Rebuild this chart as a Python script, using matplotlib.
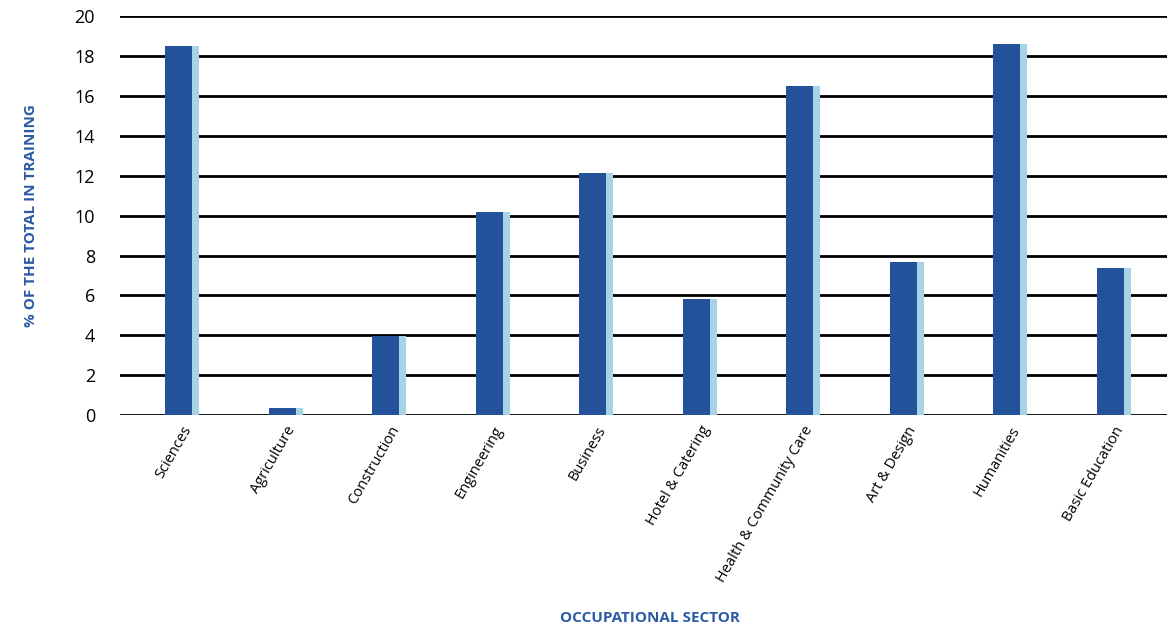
import numpy as np
import matplotlib.pyplot as plt

plt.rcParams['font.family'] = ['Open Sans', 'DejaVu Sans']

# data
sectors = ['Sciences', 'Agriculture', 'Construction', 'Engineering', 'Business',
           'Hotel & Catering', 'Health & Community Care', 'Art & Design',
           'Humanities', 'Basic Education']
share = [18.5, 0.35, 3.95, 10.2, 12.15, 5.8, 16.5, 7.65, 18.6, 7.35]

dark = '#23519a'
light = '#a6d3e6'
title_col = '#2d5aa5'

fig = plt.figure(figsize=(11.69, 6.3), dpi=100)
ax = fig.add_axes([0.1027, 0.341, 0.8953, 0.6336])

x = np.arange(len(sectors))
# light "shadow" bar on the right, dark bar in front
ax.bar(x + 0.096, share, width=0.068, align='edge', color=light, zorder=2)
ax.bar(x - 0.164, share, width=0.26, align='edge', color=dark, zorder=3)

ax.set_ylim(0, 20)
ax.set_xlim(-0.6, 9.51)
ax.set_yticks(range(0, 21, 2))
ax.yaxis.grid(True, color='black', linewidth=2)
ax.set_axisbelow(True)
for s in ax.spines.values():
    s.set_visible(False)
ax.tick_params(axis='both', length=0, labelsize=13, pad=18)
ax.tick_params(axis='x', labelsize=10.5, pad=6)

ax.set_xticks(x)
ax.set_xticklabels(sectors, rotation=60, ha='right', rotation_mode='anchor')

ax.set_ylabel('% OF THE TOTAL IN TRAINING', color=title_col, fontsize=11,
              fontweight='bold', labelpad=26)
fig.text(0.556, 0.012, 'OCCUPATIONAL SECTOR', color=title_col, fontsize=11,
         fontweight='bold', ha='center')

plt.savefig('out.png', dpi=100)
